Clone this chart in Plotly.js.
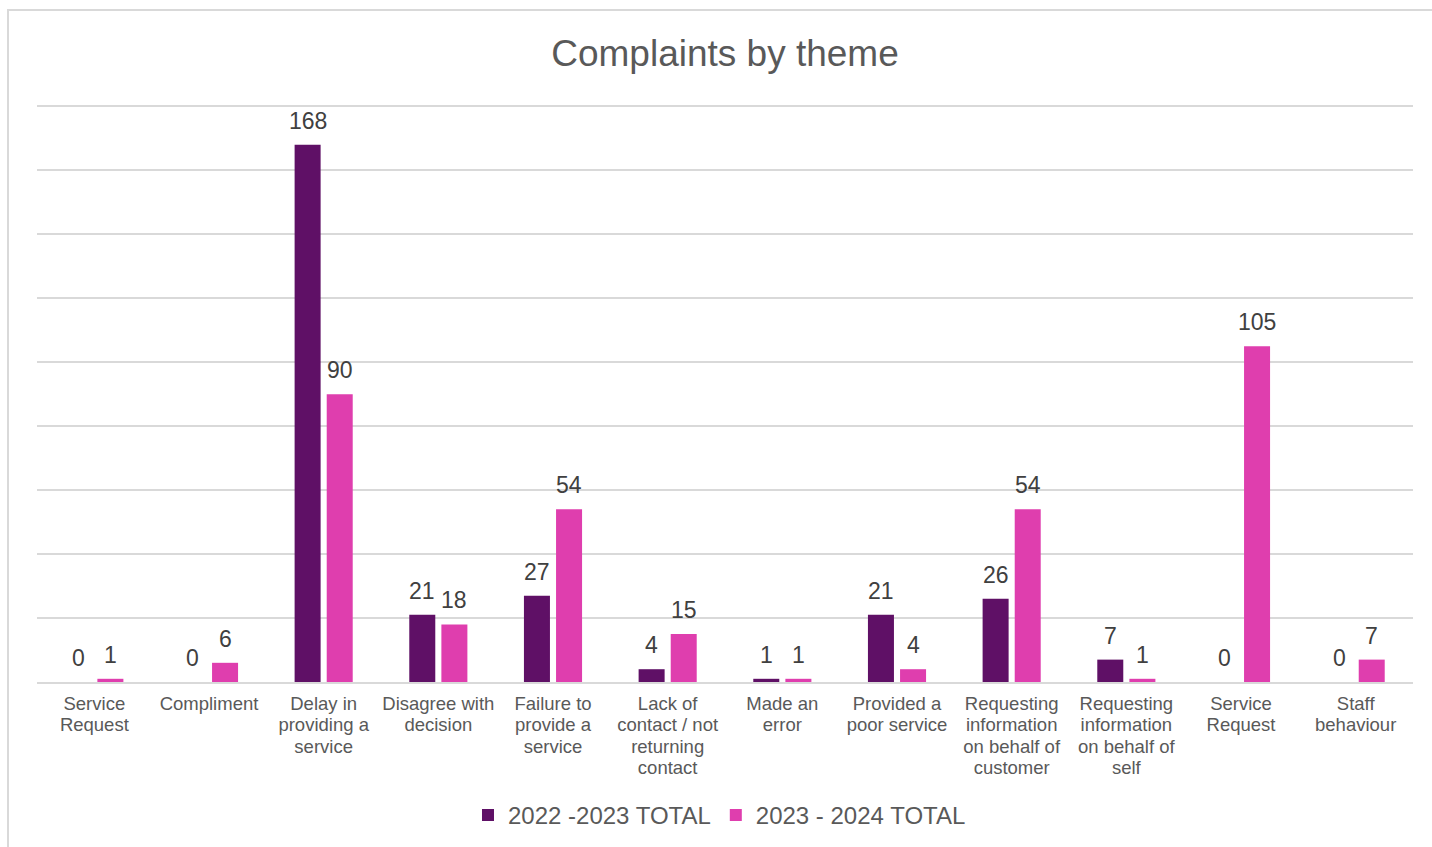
<!DOCTYPE html>
<html>
<head>
<meta charset="utf-8">
<script src="https://cdn.plot.ly/plotly-3.0.1.min.js"></script>
<style>
  html, body { margin: 0; padding: 0; background: #ffffff; overflow: hidden; }
  #frame { position: absolute; left: 7px; top: 9px; width: 1460px; height: 900px; border: 2px solid #d9d9d9; box-sizing: border-box; }
  #chart { position: absolute; left: 0; top: 0; width: 1432px; height: 847px; }
</style>
</head>
<body>
<div id="frame"></div>
<div id="chart"></div>
<script>
const categories = [
  ["Service", "Request"],
  ["Compliment"],
  ["Delay in", "providing a", "service"],
  ["Disagree with", "decision"],
  ["Failure to", "provide a", "service"],
  ["Lack of", "contact / not", "returning", "contact"],
  ["Made an", "error"],
  ["Provided a", "poor service"],
  ["Requesting", "information", "on behalf of", "customer"],
  ["Requesting", "information", "on behalf of", "self"],
  ["Service", "Request"],
  ["Staff", "behaviour"]
];
const series1Name = "2022 -2023 TOTAL";
const series2Name = "2023 - 2024 TOTAL";
const series1 = [0, 0, 168, 21, 27, 4, 1, 21, 26, 7, 0, 0];
const series2 = [1, 6, 90, 18, 54, 15, 1, 4, 54, 1, 105, 7];

const xIdx = categories.map((_, i) => i);
const tickText = categories.map(lines =>
  lines.map(l => "<span style='font-size:18.5px'>" + l + "</span>").join("<br>"));

const FONT = "Liberation Sans, Arial, sans-serif";
const BAR_OFFSET = 0.14;

const traces = [
  {
    type: "bar", name: series1Name, x: xIdx, y: series1,
    marker: { color: "#5f1066" }, hoverinfo: "skip"
  },
  {
    type: "bar", name: series2Name, x: xIdx, y: series2,
    marker: { color: "#df3eae" }, hoverinfo: "skip"
  }
];

const annotations = [];
[[series1, -BAR_OFFSET], [series2, BAR_OFFSET]].forEach(([vals, off]) => {
  vals.forEach((v, i) => {
    annotations.push({
      x: i + off, y: v, xref: "x", yref: "y",
      text: String(v), showarrow: false,
      xanchor: "center", yanchor: "bottom", yshift: 9,
      font: { family: FONT, size: 23, color: "#404040" }
    });
  });
});

const layout = {
  width: 1432, height: 847,
  paper_bgcolor: "rgba(0,0,0,0)", plot_bgcolor: "rgba(0,0,0,0)",
  font: { family: FONT, color: "#595959" },
  margin: { l: 37, r: 19, t: 105, b: 165, autoexpand: false },
  title: {
    text: "Complaints by theme",
    font: { size: 37, color: "#595959" },
    x: 0.5, xanchor: "center", y: 0.937, yanchor: "middle", xref: "paper"
  },
  barmode: "group",
  bargap: 0.44,
  bargroupgap: 0.19,
  xaxis: {
    tickmode: "array", tickvals: xIdx, ticktext: tickText,
    range: [-0.5, 11.5], automargin: false,
    showgrid: false, zeroline: false, showline: true, linecolor: "#d9d9d9", linewidth: 2,
    ticks: "", tickfont: { size: 16.5, color: "#595959" }, ticklabelstandoff: 6
  },
  yaxis: {
    range: [0, 180.4], dtick: 20, tick0: 0, showticklabels: false, automargin: false,
    showgrid: true, gridcolor: "#d9d9d9", gridwidth: 2,
    zeroline: false, ticks: ""
  },
  annotations: annotations,
  showlegend: true,
  legend: {
    orientation: "h", x: 0.496, xanchor: "center", y: -0.231, yanchor: "middle",
    font: { size: 24, color: "#595959" }, itemwidth: 30, traceorder: "normal"
  }
};

Plotly.newPlot("chart", traces, layout, { displayModeBar: false, staticPlot: true });
</script>
</body>
</html>
